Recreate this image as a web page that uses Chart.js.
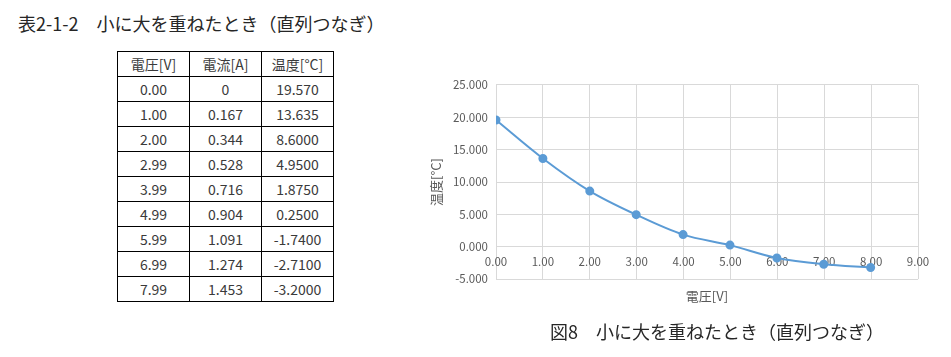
<!DOCTYPE html>
<html>
<head>
<meta charset="utf-8">
<script src="https://cdn.jsdelivr.net/npm/chart.js@4/dist/chart.umd.min.js"></script>
<style>
  body { margin: 0; width: 951px; height: 357px; background: #fff; position: relative; overflow: hidden;
         font-family: "Noto Sans CJK JP", "Noto Sans", sans-serif; color: #262626; }
  .title { position: absolute; left: 18px; top: 10px; font-size: 18px; white-space: pre; }
  .caption { position: absolute; left: 550px; top: 318px; font-size: 18px; white-space: pre; }
  table { position: absolute; left: 117px; top: 51px; border-collapse: collapse; font-size: 14px; color: #3a3a3a; }
  td, th { border: 1px solid #000; width: 71px; height: 24px; padding: 0; text-align: center; font-weight: normal; }
  #wrap { position: absolute; left: 420px; top: 70px; width: 520px; height: 224px; }
  .xtitle { position: absolute; left: 707px; top: 286px; transform: translateX(-50%); font-size: 13px; color: #595959; }
</style>
</head>
<body>
<div class="title">表2-1-2　小に大を重ねたとき（直列つなぎ）</div>
<table id="tbl"></table>
<div id="wrap"><canvas id="chart"></canvas></div>
<div class="xtitle">電圧[V]</div>
<div class="caption">図8　小に大を重ねたとき（直列つなぎ）</div>
<script>
const headers = ['電圧[V]', '電流[A]', '温度[°C]']
const voltages = ['0.00', '1.00', '2.00', '2.99', '3.99', '4.99', '5.99', '6.99', '7.99']
const currents = ['0', '0.167', '0.344', '0.528', '0.716', '0.904', '1.091', '1.274', '1.453']
const temps = ['19.570', '13.635', '8.6000', '4.9500', '1.8750', '0.2500', '-1.7400', '-2.7100', '-3.2000']

// table
const tbl = document.getElementById('tbl')
let html = '<tr>' + headers.map(h => '<th>' + h + '</th>').join('') + '</tr>'
voltages.forEach((v, i) => {
    html += '<tr><td>' + v + '</td><td>' + currents[i] + '</td><td>' + temps[i] + '</td></tr>'
})
tbl.innerHTML = html

const tickFont = { family: '"Noto Sans CJK JP", sans-serif', size: 11.5 }

const chartCtx = document.getElementById('chart').getContext('2d')
new Chart(chartCtx, {
    type: 'line',
    data: {
        datasets: [{
            data: voltages.map((v, i) => ({ x: parseFloat(v), y: parseFloat(temps[i]) })),
            borderColor: '#5b9bd5',
            backgroundColor: '#5b9bd5',
            borderWidth: 2,
            pointRadius: 3.5,
            tension: 0.3,
            cubicInterpolationMode: 'monotone',
        }]
    },
    options: {
        responsive: true,
        maintainAspectRatio: false,
        animation: false,
        layout: { padding: { top: 8, right: 22, bottom: 10, left: 0 } },
        plugins: {
            legend: { display: false },
            tooltip: { enabled: false },
        },
        scales: {
            x: {
                type: 'linear',
                position: { y: 0 },
                min: 0,
                max: 9,
                ticks: {
                    stepSize: 1,
                    color: '#595959',
                    font: tickFont,
                    padding: 8,
                    callback: v => v.toFixed(2),
                },
                grid: { color: '#d9d9d9', drawTicks: false },
                border: { color: '#d9d9d9' },
            },
            y: {
                min: -5,
                max: 25,
                ticks: {
                    stepSize: 5,
                    color: '#595959',
                    font: tickFont,
                    padding: 8,
                    callback: v => v.toFixed(3),
                },
                grid: { color: '#d9d9d9', drawTicks: false },
                border: { display: false },
                title: {
                    display: true,
                    text: '温度[°C]',
                    color: '#595959',
                    font: { family: '"Noto Sans CJK JP", sans-serif', size: 13 },
                    padding: { top: 8, bottom: 0 },
                },
                afterFit: scale => { scale.width = 76 },
            },
        }
    }
})
</script>
</body>
</html>
